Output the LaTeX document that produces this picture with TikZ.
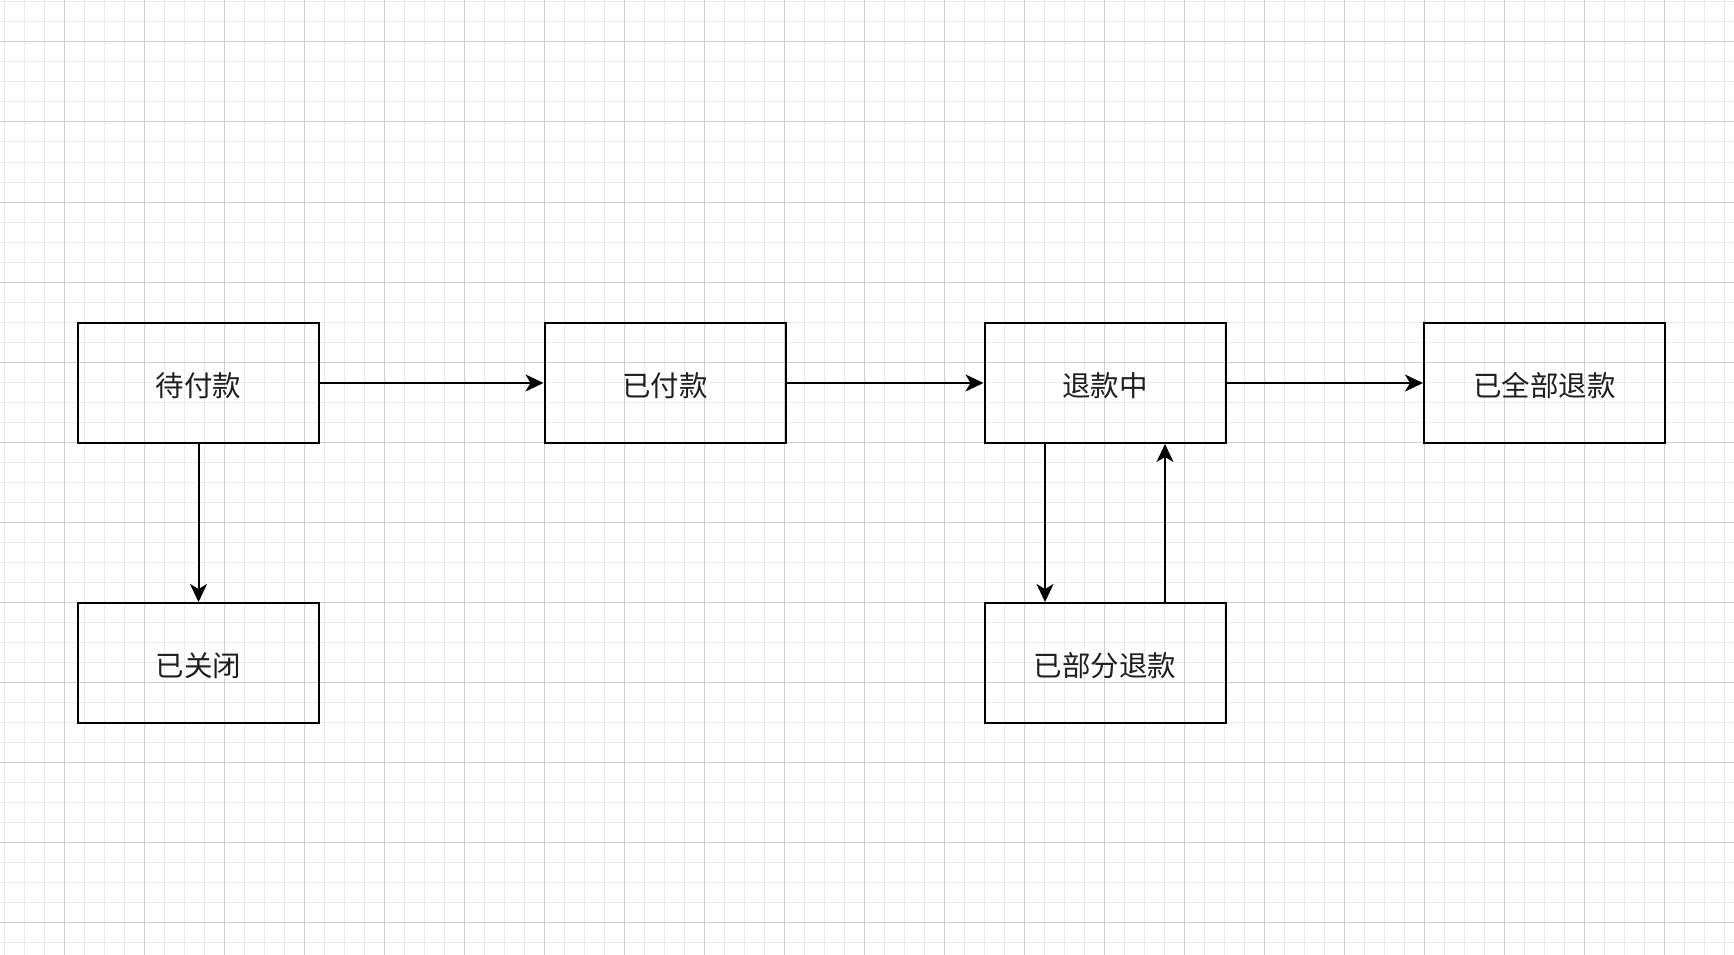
\documentclass[tikz,border=0pt]{standalone}
\usepackage{fontspec}
\newfontfamily\cjk{Noto Sans CJK SC}
\usetikzlibrary{arrows.meta}
\definecolor{minorgrid}{HTML}{EBEBEB}
\definecolor{majorgrid}{HTML}{D0D0D0}
% lower a label without changing the box it reports
\newcommand{\dropped}[1]{\raisebox{-3pt}[\height][\depth]{#1}}
\begin{document}
\begin{tikzpicture}[x=1pt,y=-1pt,
  state/.style={draw=black, line width=2pt, minimum width=241pt, minimum height=120pt,
    inner sep=0pt, font=\cjk\fontsize{28.5}{32}\selectfont, text=black!88},
  flow/.style={line width=2pt, -{Stealth[length=18pt,width=17pt,inset=5pt]}}]
% canvas and background grid
\useasboundingbox (0,0) rectangle (1734,955);
\fill[white] (0,0) rectangle (1734,955);
\foreach \x in {4,24,...,1734} \draw[minorgrid, line width=1pt] (\x,0) -- (\x,955);
\foreach \y in {2,22,...,955} \draw[minorgrid, line width=1pt] (0,\y) -- (1734,\y);
\foreach \x in {64,144,...,1734} \draw[majorgrid, line width=1pt] (\x,0) -- (\x,955);
\foreach \y in {42,122,...,955} \draw[majorgrid, line width=1pt] (0,\y) -- (1734,\y);
% order states
\node[state] (unpaid)    at (198.5,383)  {\dropped{待付款}};
\node[state] (paid)      at (665,383)    {\dropped{已付款}};
\node[state] (refunding) at (1105,383)   {\dropped{退款中}};
\node[state] (refunded)  at (1544.5,383) {\dropped{已全部退款}};
\node[state] (closed)    at (198.5,663)  {\dropped{已关闭}};
\node[state] (partial)   at (1105,663)   {\dropped{已部分退款}};
% transitions
\draw[flow] (unpaid.east) -- (paid.west);
\draw[flow] (paid.east) -- (refunding.west);
\draw[flow] (refunding.east) -- (refunded.west);
\draw[flow] (unpaid.south) -- (closed.north);
\draw[flow] ([xshift=-60pt]refunding.south) -- ([xshift=-60pt]partial.north);
\draw[flow] ([xshift=60pt]partial.north) -- ([xshift=60pt]refunding.south);
\end{tikzpicture}
\end{document}
